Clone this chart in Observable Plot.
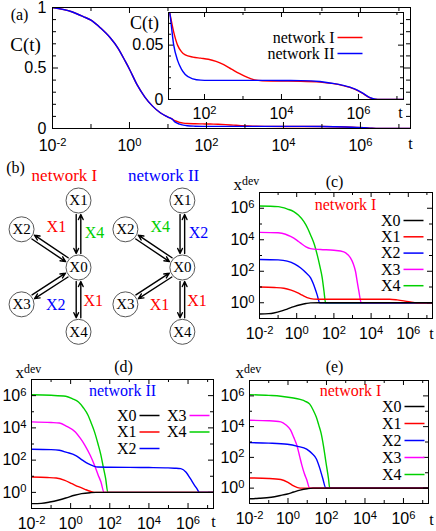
<!DOCTYPE html>
<html><head><meta charset="utf-8">
<script src="https://cdn.jsdelivr.net/npm/d3@7"></script>
<script src="https://cdn.jsdelivr.net/npm/@observablehq/plot@0.6"></script>
<style>
body{margin:0;background:#fff}
#fig{position:relative;width:436px;height:531px;overflow:hidden;background:#fff}
#fig > svg{position:absolute;left:0;top:0}
</style></head><body><div id="fig"></div>
<script>
// ================= DATA =================
// Panel (a): correlation function C(t); log10(t) grid and values
const cLogT  = [-2, -1.5, -1.2, -1, -0.75, -0.5, -0.3, -0.1, 0, 0.2, 0.4, 0.6, 0.8, 1.0, 1.1, 1.2, 1.3, 1.4, 1.5, 1.7, 1.9, 2.1, 2.3, 2.5, 2.7, 2.9, 3.1, 3.3, 3.5, 4, 4.5, 5, 5.3, 5.6, 5.9, 6.1, 6.3, 6.5, 6.7, 7, 7.3];
const cNetI  = [1.0, 0.965, 0.925, 0.895, 0.83, 0.75, 0.665, 0.55, 0.49, 0.36, 0.26, 0.185, 0.13, 0.095, 0.079, 0.062, 0.05, 0.044, 0.041, 0.039, 0.038, 0.037, 0.035, 0.032, 0.028, 0.024, 0.0205, 0.018, 0.0172, 0.017, 0.0168, 0.016, 0.0148, 0.0128, 0.0095, 0.0058, 0.0015, 0, 0, 0, 0];
const cNetII = [1.0, 0.965, 0.925, 0.895, 0.83, 0.75, 0.665, 0.55, 0.49, 0.36, 0.26, 0.185, 0.13, 0.095, 0.079, 0.05, 0.036, 0.028, 0.023, 0.019, 0.0178, 0.0176, 0.0176, 0.0176, 0.0176, 0.0176, 0.0176, 0.0176, 0.0176, 0.0175, 0.0174, 0.0165, 0.015, 0.013, 0.0097, 0.006, 0.0017, 0, 0, 0, 0];
const netNames = ["network I", "network II"];
const netColors = ["#ff0000", "#0000ff"];

// Panels (c),(d),(e): x^dev per species, pairs of [log10 t, log10 x^dev]
const species = ["X0", "X1", "X2", "X3", "X4"];
const speciesColors = ["#000000", "#ff0000", "#0000ff", "#ff00ff", "#00d000"];

const c_X0 = [[-2,-0.71],[-1.5,-0.69],[-1.23,-0.65],[-0.8,-0.52],[-0.51,-0.4],[-0.15,-0.25],[0.2,-0.13],[0.5,-0.05],[0.74,-0.01],[1.2,0],[7.3,0]];
const c_X1 = [[-2,1.0],[-1.2,0.97],[-0.69,0.92],[-0.3,0.8],[0.03,0.65],[0.3,0.48],[0.56,0.33],[0.92,0.23],[1.2,0.22],[5.0,0.22],[5.4,0.18],[5.76,0.12],[6.1,0.05],[6.48,0],[7.3,0]];
const c_X2 = [[-2,2.75],[-1,2.72],[-0.51,2.64],[-0.1,2.45],[0.2,2.22],[0.5,1.9],[0.74,1.59],[1.0,0.86],[1.1,0.5],[1.24,0],[7.3,0]];
const c_X3 = [[-2,4.47],[-1,4.44],[-0.6,4.35],[-0.33,4.21],[0,3.98],[0.2,3.8],[0.5,3.55],[0.74,3.44],[1.28,3.38],[2.0,3.33],[2.53,3.23],[2.75,3.05],[2.89,2.85],[3.05,2.45],[3.16,2.0],[3.26,1.3],[3.34,0.75],[3.47,0],[7.3,0]];
const c_X4 = [[-2,6.14],[-1,6.1],[-0.5,5.95],[-0.16,5.79],[0.1,5.55],[0.38,5.16],[0.6,4.7],[0.74,4.32],[0.95,3.7],[1.1,3.06],[1.25,2.3],[1.37,1.6],[1.47,0.7],[1.55,0],[7.3,0]];

const d_X0 = [[-2,-0.7],[-1.5,-0.68],[-1.07,-0.6],[-0.6,-0.47],[-0.25,-0.35],[0.2,-0.18],[0.56,-0.08],[1.0,-0.02],[1.3,0],[7.3,0]];
const d_X1 = [[-2,0.95],[-1.2,0.92],[-0.74,0.89],[-0.3,0.75],[0.07,0.54],[0.4,0.35],[0.73,0.19],[1.0,0.07],[1.22,0],[7.3,0]];
const d_X2 = [[-2,2.67],[-1,2.65],[-0.58,2.61],[-0.2,2.48],[0.24,2.3],[0.6,2.0],[0.89,1.78],[1.15,1.64],[1.38,1.57],[2,1.56],[3,1.55],[4,1.54],[4.98,1.52],[5.3,1.5],[5.63,1.47],[5.9,1.25],[6.12,0.85],[6.3,0.5],[6.45,0.23],[6.58,0],[7.3,0]];
const d_X3 = [[-2,4.37],[-1,4.33],[-0.58,4.3],[-0.2,4.1],[0.24,3.75],[0.5,3.35],[0.73,2.92],[1.0,2.3],[1.22,1.68],[1.4,1.1],[1.55,0.64],[1.71,0],[7.3,0]];
const d_X4 = [[-2,6.05],[-1,6.02],[-0.25,5.96],[0.1,5.8],[0.4,5.6],[0.65,5.25],[0.89,4.78],[1.05,4.3],[1.22,3.75],[1.4,3.0],[1.55,2.3],[1.68,1.5],[1.79,0.85],[1.9,0],[7.3,0]];

const e_X0 = [[-2,-0.69],[-1.5,-0.66],[-0.87,-0.59],[-0.4,-0.48],[-0.03,-0.38],[0.3,-0.25],[0.63,-0.13],[1.0,-0.04],[1.3,0],[7.3,0]];
const e_X1 = [[-2,0.66],[-1,0.63],[-0.37,0.56],[0,0.38],[0.3,0.14],[0.63,0],[7.3,0]];
const e_X2 = [[-2,2.96],[-1,2.93],[-0.03,2.85],[0.5,2.72],[0.97,2.54],[1.25,2.25],[1.47,1.91],[1.65,1.3],[1.8,0.66],[1.97,0],[7.3,0]];
const e_X3 = [[-2,4.41],[-1,4.38],[-0.37,4.31],[-0.1,4.1],[0.13,3.79],[0.3,3.3],[0.47,2.75],[0.6,2.1],[0.72,1.5],[0.85,0.95],[0.97,0.56],[1.13,0],[7.3,0]];
const e_X4 = [[-2,6.08],[-1,6.03],[-0.37,5.98],[0.2,5.88],[0.63,5.77],[0.9,5.65],[1.13,5.46],[1.3,5.1],[1.47,4.62],[1.6,4.1],[1.72,3.58],[1.85,2.7],[1.97,1.7],[2.1,0.66],[2.17,0],[7.3,0]];

// Tick values and labels
const tTicks = [1e-2, 1, 1e2, 1e4, 1e6];
const tTickLabels = ["10^-2", "10^0", "10^2", "10^4", "10^6"];
const tMinor = [1e-1, 1e1, 1e3, 1e5, 1e7];
const insetTTicks = [1e2, 1e4, 1e6];
const insetTTickLabels = ["10^2", "10^4", "10^6"];
const devTicks = [1, 1e2, 1e4, 1e6];
const devTickLabels = ["10^0", "10^2", "10^4", "10^6"];
const devMinor = [1e-1, 1e1, 1e3, 1e5, 1e7];
const aYTicks = [0, 0.5, 1];
const aYTickLabels = ["0", "0.5", "1"];
const aYMinor = [0.1, 0.2, 0.3, 0.4, 0.6, 0.7, 0.8, 0.9];
const insetYTicks = [0, 0.05];
const insetYTickLabels = ["0", "0.05"];
const insetYMinor = [0.01, 0.02, 0.03, 0.04, 0.06, 0.07, 0.08];

// Panel (b): reaction networks
const nodeNames = ["X0", "X1", "X2", "X3", "X4"];
const nodeU = [0, 0, -0.85, -0.85, 0];
const nodeV = [0, 1, 0.57, -0.55, -0.96];
const netShiftU = [0, 1.55];
const netTitleU = [-0.21, -0.28];
const netTitleV = [1.37, 1.37];
const edgeLabelsI  = ["X4", "X1", "X2", "X1"];  // edges X0-X1, X0-X2, X0-X3, X0-X4
const edgeLabelsII = ["X2", "X4", "X1", "X1"];
const edgeLabelU = [0.24, -0.33, -0.34, 0.22];
const edgeLabelV = [0.52, 0.6, -0.56, -0.5];
const outSide = [-1, -1, 1, -1];

// ================= LAYOUT =================
const W = 436, H = 531;
const SERIF = "Liberation Serif, Times New Roman, serif";
const SANS = "Liberation Sans, Arial, sans-serif";
const aBox = [52, 7, 410, 128];
const insetBox = [168, 12, 403, 99];
const cBox = [259, 192, 432, 318];
const dBox = [31, 379, 213, 508];
const eBox = [249, 380, 428, 503];
const tDomain = [1e-2, 2e7];
const devDomain = [1e-1, 1e7];

function base(box) {
  return {
    width: W, height: H,
    marginLeft: box[0], marginTop: box[1], marginRight: W - box[2], marginBottom: H - box[3],
    style: {background: "transparent", overflow: "visible"}
  };
}
function note(box, str, px, py, opts = {}) {
  return Plot.text([str], {frameAnchor: "top-left", dx: px - box[0], dy: py - box[1], text: d => d,
    textAnchor: "middle", lineAnchor: "middle", fontFamily: SERIF, fontSize: 16, fill: "black", ...opts});
}
function ticks(box, {xs = [], xsMinor = [], ys = [], ysMinor = [], big = 6, small = 3}) {
  const fw = box[2] - box[0], fh = box[3] - box[1];
  const m = [];
  for (const [vals, len] of [[xs, big], [xsMinor, small]]) {
    m.push(Plot.tickX(vals, {x: d => d, insetTop: fh - len, stroke: "black"}));
    m.push(Plot.tickX(vals, {x: d => d, insetBottom: fh - len, stroke: "black"}));
  }
  for (const [vals, len] of [[ys, big], [ysMinor, small]]) {
    m.push(Plot.tickY(vals, {y: d => d, insetRight: fw - len, stroke: "black"}));
    m.push(Plot.tickY(vals, {y: d => d, insetLeft: fw - len, stroke: "black"}));
  }
  return m;
}
function xLabels(vals, labels, dy, fs = 16) {
  return Plot.text(vals, {x: d => d, frameAnchor: "bottom", dy, lineAnchor: "middle", textAnchor: "middle",
    text: (d, i) => labels[i], fontFamily: SANS, fontSize: fs, fill: "black"});
}
function yLabels(vals, labels, dx, fs = 16) {
  return Plot.text(vals, {y: d => d, frameAnchor: "left", dx, textAnchor: "end", lineAnchor: "middle",
    text: (d, i) => labels[i], fontFamily: SANS, fontSize: fs, fill: "black"});
}
function legendPlot({names, colorDomain, colorRange, cols, rows, x0, colStep, y0, rowStep, lineLen}) {
  const data = names.map((name, i) => ({name, col: cols[i], row: rows[i]}));
  return Plot.plot({
    width: W, height: H, margin: 0,
    style: {background: "transparent", overflow: "visible"},
    x: {domain: [0, 1], range: [x0, x0 + colStep], axis: null},
    y: {domain: [0, 1], range: [y0, y0 + rowStep], axis: null},
    color: {domain: colorDomain, range: colorRange},
    marks: [
      Plot.link(data, {x1: "col", x2: d => d.col + lineLen / colStep, y1: "row", y2: "row", stroke: "name", strokeWidth: 1.5}),
      Plot.text(data, {x: "col", y: "row", text: "name", textAnchor: "end", lineAnchor: "middle", dx: -3, fontFamily: SERIF, fontSize: 16, fill: "black"})
    ]
  });
}

// ================= PANEL (a) =================
const aRows = [];
netNames.forEach((net, n) => cLogT.forEach((lt, i) => aRows.push({net, t: 10 ** lt, c: (n === 0 ? cNetI : cNetII)[i]})));

const aPlot = Plot.plot({
  ...base(aBox),
  x: {type: "log", domain: tDomain, axis: null},
  y: {domain: [0, 1], axis: null},
  color: {domain: netNames, range: netColors},
  marks: [
    Plot.line(aRows, {x: "t", y: "c", z: "net", stroke: "net", strokeWidth: 1.4, curve: "monotone-x", clip: true}),
    Plot.frame({stroke: "black"}),
    ...ticks(aBox, {xs: tTicks, xsMinor: tMinor, ys: aYTicks, ysMinor: aYMinor, big: 6, small: 4}),
    xLabels(tTicks, tTickLabels, 17),
    yLabels(aYTicks, aYTickLabels, -6),
    note(aBox, "(a)", 19, 14),
    note(aBox, "C(t)", 25, 44, {fontSize: 19}),
    note(aBox, "t", 410, 143)
  ]
});

const insetRows = aRows.filter(d => d.t >= 10);
const insetPlot = Plot.plot({
  ...base(insetBox),
  x: {type: "log", domain: [11.6, 1.48e7], axis: null},
  y: {domain: [0, 0.08], axis: null},
  color: {domain: netNames, range: netColors},
  marks: [
    Plot.frame({fill: "white", stroke: "none"}),
    Plot.line(insetRows, {x: "t", y: "c", z: "net", stroke: "net", strokeWidth: 1.4, curve: "monotone-x", clip: true}),
    Plot.frame({stroke: "black"}),
    ...ticks(insetBox, {xs: insetTTicks, xsMinor: [1e3, 1e5, 1e7], ys: insetYTicks, ysMinor: insetYMinor, big: 5, small: 3}),
    xLabels(insetTTicks, insetTTickLabels, 14),
    yLabels(insetYTicks, insetYTickLabels, -5),
    note(insetBox, "C(t)", 144, 23, {fontSize: 18}),
    note(insetBox, "t", 400, 112)
  ]
});

const aLegend = legendPlot({names: netNames, colorDomain: netNames, colorRange: netColors,
  cols: [0, 0], rows: [0, 1], x0: 337, colStep: 25, y0: 37, rowStep: 16, lineLen: 25});

// ================= PANEL (b) =================
const U = 67;
const nodes = [], arrows = [], edgeLabs = [];
const delta = 2.3 / U;
netNames.forEach((net, n) => {
  nodeNames.forEach((name, i) => nodes.push({name, u: nodeU[i] + netShiftU[n], v: nodeV[i]}));
  const u0 = nodeU[0] + netShiftU[n], v0 = nodeV[0];
  for (let k = 1; k < 5; k++) {
    const uk = nodeU[k] + netShiftU[n], vk = nodeV[k];
    const len = Math.hypot(uk - u0, vk - v0);
    const pu = -(vk - v0) / len, pv = (uk - u0) / len;
    const s = outSide[k - 1] * delta;
    arrows.push({x1: u0 + s * pu, y1: v0 + s * pv, x2: uk + s * pu, y2: vk + s * pv});
    arrows.push({x1: uk - s * pu, y1: vk - s * pv, x2: u0 - s * pu, y2: v0 - s * pv});
  }
  (n === 0 ? edgeLabelsI : edgeLabelsII).forEach((lab, k) =>
    edgeLabs.push({lab, u: edgeLabelU[k] + netShiftU[n], v: edgeLabelV[k]}));
});
const netPlot = Plot.plot({
  width: W, height: H, margin: 0,
  style: {background: "transparent", overflow: "visible"},
  x: {domain: [-78 / U, (W - 78) / U], range: [0, W], axis: null},
  y: {domain: [(267 - H) / U, 267 / U], range: [H, 0], axis: null},
  color: {domain: species, range: speciesColors},
  marks: [
    Plot.arrow(arrows, {x1: "x1", y1: "y1", x2: "x2", y2: "y2", insetStart: 14, insetEnd: 14, headLength: 6, headAngle: 50, strokeWidth: 1.4, stroke: "black"}),
    Plot.dot(nodes, {x: "u", y: "v", r: 12.5, fill: "white", stroke: "#444", strokeWidth: 0.9}),
    Plot.text(nodes, {x: "u", y: "v", text: "name", fontFamily: SERIF, fontSize: 15, fill: "black"}),
    Plot.text(edgeLabs, {x: "u", y: "v", text: "lab", fill: "lab", fontFamily: SERIF, fontSize: 16}),
    Plot.text([netNames[0]], {x: netTitleU[0] + netShiftU[0], y: netTitleV[0], text: d => d, fill: netColors[0], fontFamily: SERIF, fontSize: 17}),
    Plot.text([netNames[1]], {x: netTitleU[1] + netShiftU[1], y: netTitleV[1], text: d => d, fill: netColors[1], fontFamily: SERIF, fontSize: 17}),
    Plot.text(["(b)"], {x: nodeU[0] - 0.94, y: nodeV[0] + 1.48, text: d => d, fontFamily: SERIF, fontSize: 16, fill: "black"})
  ]
});

// ================= PANELS (c),(d),(e) =================
function devRows(curves) {
  const rows = [];
  for (const s of ["X4", "X3", "X2", "X1", "X0"]) for (const [lt, lv] of curves[s]) rows.push({s, t: 10 ** lt, v: 10 ** lv});
  return rows;
}
function devPanel(box, curves, extra) {
  return Plot.plot({
    ...base(box),
    x: {type: "log", domain: tDomain, axis: null},
    y: {type: "log", domain: devDomain, axis: null},
    color: {domain: species, range: speciesColors},
    marks: [
      Plot.line(devRows(curves), {x: "t", y: "v", z: "s", stroke: "s", strokeWidth: 1.4, curve: "monotone-x", clip: true}),
      Plot.frame({stroke: "black"}),
      ...ticks(box, {xs: tTicks, xsMinor: tMinor, ys: devTicks, ysMinor: devMinor, big: 5, small: 3}),
      xLabels(tTicks, tTickLabels, 15),
      yLabels(devTicks, devTickLabels, -5),
      ...extra
    ]
  });
}
const cPlot = devPanel(cBox, {X0: c_X0, X1: c_X1, X2: c_X2, X3: c_X3, X4: c_X4}, [
  note(cBox, "x^dev", 233, 184, {textAnchor: "start", fontSize: 17}),
  note(cBox, "(c)", 334, 181),
  note(cBox, "network I", 345, 204, {fill: "#ff0000"}),
  note(cBox, "t", 431, 333)
]);
const dPlot = devPanel(dBox, {X0: d_X0, X1: d_X1, X2: d_X2, X3: d_X3, X4: d_X4}, [
  note(dBox, "x^dev", 15, 372, {textAnchor: "start", fontSize: 17}),
  note(dBox, "(d)", 123, 366),
  note(dBox, "network II", 122, 390, {fill: "#0000ff"}),
  note(dBox, "t", 213, 521)
]);
const ePlot = devPanel(eBox, {X0: e_X0, X1: e_X1, X2: e_X2, X3: e_X3, X4: e_X4}, [
  note(eBox, "x^dev", 235, 372, {textAnchor: "start", fontSize: 17}),
  note(eBox, "(e)", 334, 366),
  note(eBox, "network I", 350, 390, {fill: "#ff0000"}),
  note(eBox, "t", 431, 519)
]);
const cLegend = legendPlot({names: species, colorDomain: species, colorRange: speciesColors,
  cols: [0, 0, 0, 0, 0], rows: [0, 1, 2, 3, 4], x0: 403, colStep: 20, y0: 220, rowStep: 16.3, lineLen: 20});
const dLegend = legendPlot({names: species, colorDomain: species, colorRange: speciesColors,
  cols: [0, 0, 0, 1, 1], rows: [0, 1, 2, 0, 1], x0: 139, colStep: 50, y0: 415, rowStep: 16.5, lineLen: 20});
const eLegend = legendPlot({names: species, colorDomain: species, colorRange: speciesColors,
  cols: [0, 0, 0, 0, 0], rows: [0, 1, 2, 3, 4], x0: 404, colStep: 20, y0: 406, rowStep: 17, lineLen: 20});

// ================= ASSEMBLE =================
function supify(svg) {
  d3.select(svg).selectAll("text").each(function () {
    const s = this.textContent;
    if (!s.includes("^") || this.querySelector("tspan")) return;
    const [b, sup] = s.split("^");
    const el = d3.select(this);
    el.text(null);
    el.append("tspan").text(b);
    el.append("tspan").attr("dy", "-0.45em").attr("font-size", "0.7em").text(sup);
  });
  return svg;
}
const fig = document.getElementById("fig");
for (const p of [aPlot, insetPlot, aLegend, netPlot, cPlot, cLegend, dPlot, dLegend, ePlot, eLegend]) fig.appendChild(supify(p));
</script></body></html>
